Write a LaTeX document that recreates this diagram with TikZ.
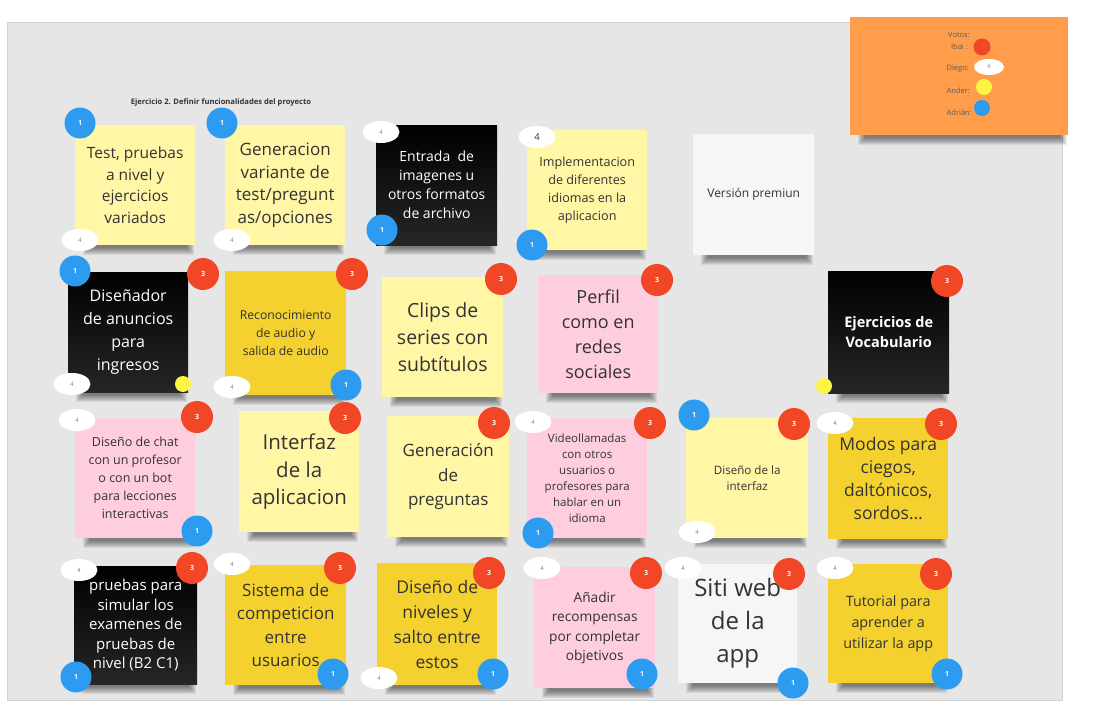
\documentclass[tikz,border=0pt]{standalone}
\usepackage{fontspec}
\setmainfont{Open Sans}
\usetikzlibrary{shapes.geometric,calc}
\pgfdeclarelayer{bg}
\pgfdeclarelayer{shd}
\pgfsetlayers{bg,shd,main}
\definecolor{board}{HTML}{E6E6E6}
\definecolor{boardline}{HTML}{D2D2D2}
\definecolor{lyellow}{HTML}{FFF6A6}
\definecolor{gold}{HTML}{F4D12E}
\definecolor{pinkn}{HTML}{FFCEDE}
\definecolor{wnote}{HTML}{F5F6F8}
\definecolor{orangen}{HTML}{FF9D4A}
\definecolor{vred}{HTML}{F24726}
\definecolor{vblue}{HTML}{2D9BF0}
\definecolor{vyellow}{HTML}{FEF445}
\definecolor{txt}{HTML}{333333}
\newcommand\fs[2]{\fontsize{#1}{#2}\selectfont}
\newcommand\nshadow[1]{%
  \begin{pgfonlayer}{shd}
  \foreach \k in {0,...,7}
    \fill[black, opacity=0.07] ($(#1.south west)+(8+\k,-14+\k)$) rectangle ($(#1.south east)+(-1-\k,10-\k)$);
  \end{pgfonlayer}}
\tikzset{
  note/.style={anchor=north west, inner sep=0pt, align=center, text=txt},
  ly/.style={note, fill=lyellow},
  gd/.style={note, fill=gold},
  pk/.style={note, fill=pinkn},
  wt/.style={note, fill=wnote},
  bk/.style={note, top color=black, bottom color=black!85!white, text=white},
  vr/.style={circle, fill=vred, minimum size=32pt, inner sep=0pt, text=white,
    font=\bfseries\fs{7}{7}},
  vb/.style={circle, fill=vblue, minimum size=31pt, inner sep=0pt, text=white,
    font=\bfseries\fs{7}{7}},
  vw/.style={ellipse, fill=white, minimum width=37pt, minimum height=22pt,
    inner sep=0pt, text=gray, font=\fs{6}{6}},
  vy/.style={circle, fill=vyellow, minimum size=16pt, inner sep=0pt},
  lg/.style={anchor=east, text=txt!80, font=\fs{7.5}{8}, inner sep=0pt},
}
\begin{document}
\begin{tikzpicture}[x=1pt,y=-1pt]
\useasboundingbox (0,0) rectangle (1095,725);
\begin{pgfonlayer}{bg}
\fill[white] (0,0) rectangle (1095,725);
\filldraw[fill=board, draw=boardline, line width=0.8pt] (7,22) rectangle (1062,700);
\end{pgfonlayer}
% legend
\node[anchor=north west, minimum width=218pt, minimum height=118pt, fill=orangen, inner sep=0pt]
  (legend) at (850,17) {};
\nshadow{legend}
\node[lg] (lvotos) at (970,35) {Votos:};
\node[lg] (libai) at (968,47) {Ibai :};
\node[lg] (ldiego) at (969,69) {Diego:};
\node[lg] (lander) at (970,91) {Ander:};
\node[lg] (ladrian) at (972,113) {Adrián:};
\node[circle, fill=vred, minimum size=17pt, inner sep=0pt] (kred) at (982,47) {};
\node[ellipse, fill=white, minimum width=30pt, minimum height=16pt, inner sep=0pt, text=gray, font=\fs{5.5}{6}] (kwhite) at (989,67) {4};
\node[circle, fill=vyellow, minimum size=16pt, inner sep=0pt] (kyellow) at (984,87) {};
\node[circle, fill=vblue, minimum size=16pt, inner sep=0pt] (kblue) at (982,108) {};
% title
\node[text=txt, font=\bfseries\fs{7.6}{8}] (title) at (221,103) {Ejercicio 2. Definir funcionalidades del proyecto};

% row 1
\node[ly, minimum width=120pt, minimum height=120pt, font=\fs{15.5}{21.5}] (n1) at (75,125)
  {Test, pruebas\\a nivel y\\ejercicios\\variados};
\node[ly, minimum width=120pt, minimum height=120pt, font=\fs{17}{22.5}] (n2) at (225,125)
  {Generacion\\variante de\\test/pregunt\\as/opciones};
\node[bk, minimum width=121pt, minimum height=120pt, font=\fs{14}{19}] (n3) at (376,125)
  {Entrada\ \ de\\imagenes u\\otros formatos\\de archivo};
\node[ly, minimum width=120pt, minimum height=120pt, font=\fs{12.6}{18}] (n4) at (527,130)
  {Implementacion\\de diferentes\\idiomas en la\\aplicacion};
\node[wt, minimum width=121pt, minimum height=121pt, font=\fs{12}{16}] (n5) at (693,134)
  {Versión premiun};
% row 2
\node[bk, minimum width=120pt, minimum height=120pt, font=\fs{16}{23}] (n6) at (68,272)
  {Diseñador\\de anuncios\\para\\ingresos};
\node[gd, minimum width=121pt, minimum height=124pt, font=\fs{12.2}{18}] (n7) at (225,271)
  {Reconocimiento\\de audio y\\salida de audio};
\node[ly, minimum width=121pt, minimum height=120pt, font=\fs{19.5}{27}] (n8) at (382,277)
  {Clips de\\series con\\subtítulos};
\node[pk, minimum width=120pt, minimum height=118pt, font=\fs{18}{25}] (n9) at (538,275)
  {Perfil\\como en\\redes\\sociales};
\node[bk, minimum width=121pt, minimum height=122pt, font=\bfseries\fs{14.5}{20}] (n10) at (828,271)
  {Ejercicios de\\Vocabulario};
% row 3
\node[pk, minimum width=120pt, minimum height=120pt, font=\fs{12.5}{18}] (n11) at (75,418)
  {Diseño de chat\\con un profesor\\o con un bot\\para lecciones\\interactivas};
\node[ly, minimum width=120pt, minimum height=121pt, font=\fs{20.5}{27.5}] (n12) at (239,411)
  {Interfaz\\de la\\aplicacion};
\node[ly, minimum width=122pt, minimum height=121pt, font=\fs{17}{24.5}] (n13) at (387,416)
  {Generación\\de\\preguntas};
\node[pk, minimum width=120pt, minimum height=120pt, font=\fs{11.5}{16}] (n14) at (527,418)
  {Videollamadas\\con otros\\usuarios o\\profesores para\\hablar en un\\idioma};
\node[ly, minimum width=122pt, minimum height=120pt, font=\fs{11.6}{16}] (n15) at (686,418)
  {Diseño de la\\interfaz};
\node[gd, minimum width=120pt, minimum height=121pt, font=\fs{17.5}{23}] (n16) at (828,418)
  {Modos para\\ciegos,\\daltónicos,\\sordos…};
% row 4
\node[bk, minimum width=123pt, minimum height=118pt, font=\fs{15}{19.5}] (n17) at (74,566)
  {pruebas para\\simular los\\examenes de\\pruebas de\\nivel (B2 C1)};
\node[gd, minimum width=121pt, minimum height=120pt, font=\fs{17}{23.5}] (n18) at (225,565)
  {Sistema de\\competicion\\entre\\usuarios};
\node[gd, minimum width=120pt, minimum height=122pt, font=\fs{17.5}{25}] (n19) at (377,563)
  {Diseño de\\niveles y\\salto entre\\estos};
\node[pk, minimum width=121pt, minimum height=121pt, font=\fs{13.7}{19.5}] (n20) at (534,567)
  {Añadir\\recompensas\\por completar\\objetivos};
\node[wt, minimum width=119pt, minimum height=119pt, font=\fs{24}{33}] (n21) at (678,564)
  {Siti web\\de la\\app};
\node[gd, minimum width=120pt, minimum height=119pt, font=\fs{14.3}{21}] (n22) at (828,564)
  {Tutorial para\\aprender a\\utilizar la app};

\foreach \n in {n1,n2,n3,n4,n5,n6,n7,n8,n9,n10,n11,n12,n13,n14,n15,n16,n17,n18,n19,n20,n21,n22}
  {\nshadow{\n}}

% vote badges
\node[vb] (n1b) at (80,123) {1};   \node[vw] (n1w) at (80,240) {4};
\node[vb] (n2b) at (222,123) {1};  \node[vw] (n2w) at (232,240) {4};
\node[vw] (n3w) at (381,132) {4};  \node[vb] (n3b) at (382,230) {1};
\node[vw, text=txt, font=\fs{9.5}{10}] (n4w) at (537,137) {4};  \node[vb] (n4b) at (532,245) {1};
\node[vb] (n6b) at (75,271) {1};   \node[vr] (n6r) at (203,274) {3};
\node[vw] (n6w) at (72,384) {4};   \node[vy] (n6y) at (183,384) {};
\node[vr] (n7r) at (352,274) {3};  \node[vb] (n7b) at (346,385) {1};  \node[vw] (n7w) at (232,387) {4};
\node[vr] (n8r) at (501,279) {3};
\node[vr] (n9r) at (657,280) {3};
\node[vr] (n10r) at (947,281) {3}; \node[vy] (n10y) at (824,386) {};
\node[vw] (n11w) at (77,420) {4};  \node[vr] (n11r) at (197,417) {3}; \node[vb] (n11b) at (197,531) {1};
\node[vr] (n12r) at (345,418) {3};
\node[vr] (n13r) at (494,423) {3};
\node[vw] (n14w) at (533,422) {4}; \node[vr] (n14r) at (650,423) {3}; \node[vb] (n14b) at (538,533) {1};
\node[vb] (n15b) at (694,415) {1}; \node[vr] (n15r) at (794,424) {3}; \node[vw] (n15w) at (697,532) {4};
\node[vw] (n16w) at (835,423) {4}; \node[vr] (n16r) at (941,424) {3};
\node[vw] (n17w) at (79,570) {4};  \node[vr] (n17r) at (192,568) {3}; \node[vb] (n17b) at (76,677) {1};
\node[vw] (n18w) at (232,564) {4}; \node[vr] (n18r) at (340,568) {3}; \node[vb] (n18b) at (333,674) {1};
\node[vr] (n19r) at (489,573) {3}; \node[vb] (n19b) at (493,674) {1}; \node[vw] (n19w) at (379,678) {4};
\node[vw] (n20w) at (542,568) {4}; \node[vr] (n20r) at (646,573) {3}; \node[vb] (n20b) at (642,674) {1};
\node[vw] (n21w) at (683,568) {4}; \node[vr] (n21r) at (789,574) {3}; \node[vb] (n21b) at (793,683) {1};
\node[vw] (n22w) at (835,568) {4}; \node[vr] (n22r) at (936,574) {3}; \node[vb] (n22b) at (947,674) {1};
\end{tikzpicture}
\end{document}
